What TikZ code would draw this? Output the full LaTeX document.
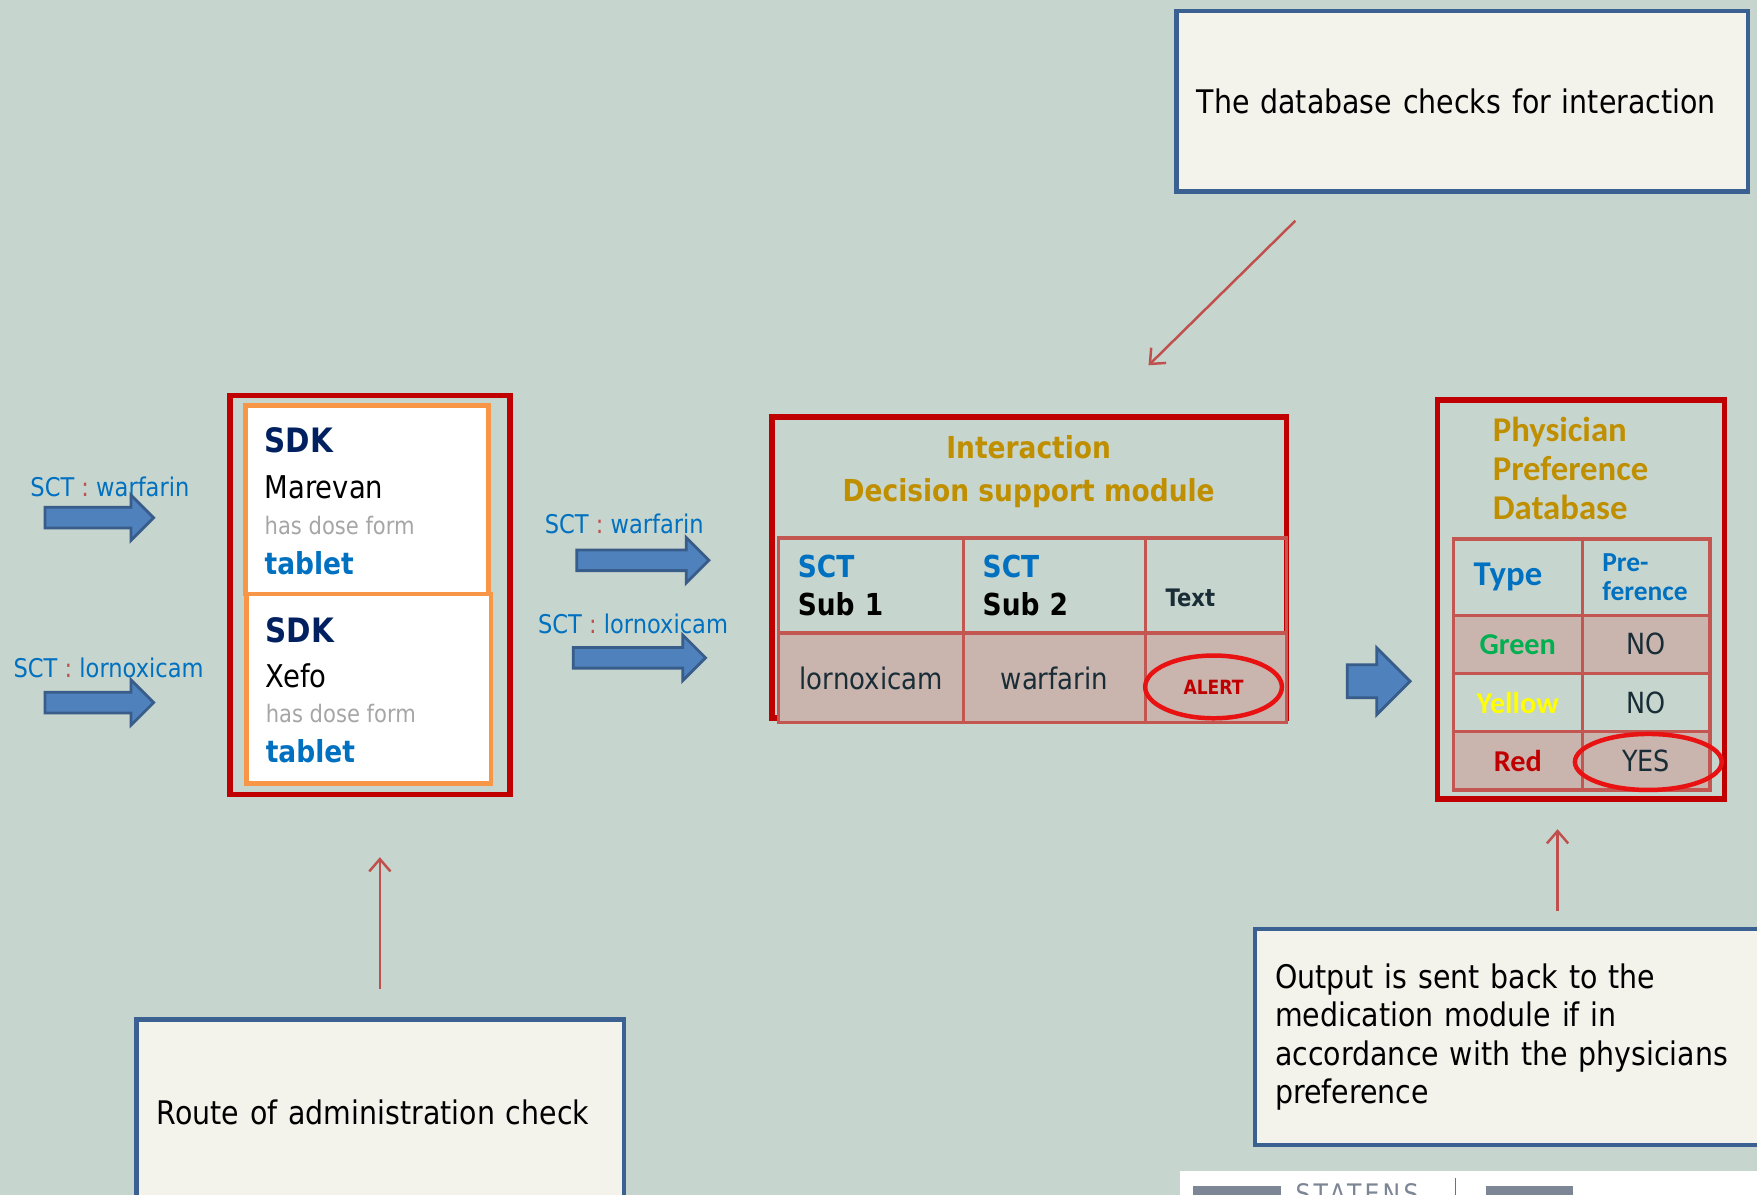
\documentclass[tikz,border=0pt]{standalone}
\usepackage{fontspec}
\setmainfont{DejaVu Sans}[FakeStretch=0.875]
\newfontfamily\calib{Carlito}
\usetikzlibrary{positioning,shapes.geometric,shapes.arrows,arrows.meta}

\definecolor{slide}{RGB}{198,213,205}
\definecolor{notefill}{RGB}{243,243,236}
\definecolor{noteedge}{RGB}{59,97,146}
\definecolor{pointred}{RGB}{192,80,77}
\definecolor{arrowfill}{RGB}{79,129,189}
\definecolor{arrowedge}{RGB}{56,93,138}
\definecolor{sctblue}{RGB}{0,112,192}
\definecolor{sdknavy}{RGB}{0,32,96}
\definecolor{doseform}{RGB}{166,166,166}
\definecolor{framered}{RGB}{192,0,0}
\definecolor{cardorange}{RGB}{247,150,70}
\definecolor{gold}{RGB}{192,143,0}
\definecolor{grid}{RGB}{196,86,82}
\definecolor{rowfill}{RGB}{201,180,174}
\definecolor{ringred}{RGB}{232,18,18}
\definecolor{ink}{RGB}{25,45,55}
\definecolor{prefgreen}{RGB}{0,176,80}
\definecolor{prefyellow}{RGB}{255,255,0}
\definecolor{logogray}{RGB}{125,134,148}

\tikzset{
  note/.style={draw=noteedge, fill=notefill, line width=4pt, outer sep=0pt, anchor=north west,
    inner xsep=18pt, align=left, font=\fontsize{29}{34}\selectfont},
  pointer/.style={-{Straight Barb[length=11pt,width=19pt]}, draw=pointred, line width=2.2pt},
  bigarrow/.style={single arrow, draw=arrowedge, fill=arrowfill, line width=2.5pt, inner xsep=0pt},
  frame/.style={draw=framered, line width=5pt, outer sep=0pt, anchor=north west, inner sep=0pt},
  card/.style={draw=cardorange, fill=white, line width=4pt, outer sep=0pt, anchor=north west, inner sep=0pt},
  cell/.style={draw=grid, line width=3pt, outer sep=0pt, anchor=north west, inner xsep=17pt, inner ysep=0pt},
  ring/.style={ellipse, draw=ringred, line width=4pt, inner sep=0pt},
  txt/.style={anchor=west, inner sep=0pt, text depth=0pt},
  tag/.style={txt, font=\fontsize{23}{27}\selectfont, text=sctblue}
}

\begin{document}
\begin{tikzpicture}[x=1pt, y=-1pt]
  \useasboundingbox (0,0) rectangle (1568,1066);
  \clip (0,0) rectangle (1568,1066);
  \fill[slide] (0,0) rectangle (1568,1066);

  % Notes
  \node (DbNote) [note, minimum height=161pt, text width=474pt] at (1050,10) {The database checks for interaction};
  \node (RouteNote) [note, minimum height=165pt, text width=399pt] at (122,910) {Route of administration check};
  \node (OutNote) [note, minimum height=193pt, text width=440pt] at (1120,829)
    {Output is sent back to the\\medication module if in\\accordance with the physicians\\preference};

  % Incoming SCT codes
  \node (WarfIn) [tag] at (27,434) {SCT \textcolor{pointred}{:} warfarin};
  \node (LornIn) [tag] at (12,596) {SCT \textcolor{pointred}{:} lornoxicam};
  \node (WarfArrowIn) [bigarrow, minimum height=97pt, inner ysep=8pt, single arrow head extend=11pt] at (84,462) {};
  \node (LornArrowIn) [bigarrow, minimum height=97pt, inner ysep=8pt, single arrow head extend=11pt] at (84,627) {};

  % Medication module
  \node (Medication) [frame, minimum width=250pt, minimum height=356pt] at (205,353) {};
  \node (CardA) [card, minimum width=217pt, minimum height=168pt] at (219,362) {};
  \node (CardB) [card, minimum width=218pt, minimum height=169pt] at (220,530) {};
  \node (SdkA) [txt, font=\bfseries\fontsize{30}{34}\selectfont, text=sdknavy] at (236,393) {SDK};
  \node (BrandA) [txt, font=\fontsize{28}{32}\selectfont] at (236,435) {Marevan};
  \node (DoseA) [txt, font=\fontsize{21.5}{25}\selectfont, text=doseform] at (236,469) {has dose form};
  \node (FormA) [txt, font=\bfseries\fontsize{27}{31}\selectfont, text=sctblue] at (236,502) {tablet};
  \node (SdkB) [txt, font=\bfseries\fontsize{30}{34}\selectfont, text=sdknavy] at (237,562) {SDK};
  \node (BrandB) [txt, font=\fontsize{28}{32}\selectfont] at (237,603) {Xefo};
  \node (DoseB) [txt, font=\fontsize{21.5}{25}\selectfont, text=doseform] at (237,637) {has dose form};
  \node (FormB) [txt, font=\bfseries\fontsize{27}{31}\selectfont, text=sctblue] at (237,670) {tablet};

  % Outgoing SCT codes
  \node (WarfOut) [tag] at (486,467) {SCT \textcolor{pointred}{:} warfarin};
  \node (LornOut) [tag] at (480,557) {SCT \textcolor{pointred}{:} lornoxicam};
  \node (WarfArrowOut) [bigarrow, minimum height=118pt, inner ysep=8pt, single arrow head extend=11pt] at (569,500) {};
  \node (LornArrowOut) [bigarrow, minimum height=118pt, inner ysep=8pt, single arrow head extend=11pt] at (566,587) {};

  % Interaction module
  \node (Interaction) [frame, minimum width=459pt, minimum height=269pt] at (689,372) {};
  \node (InterTitle) [align=center, font=\bfseries\fontsize{27}{38}\selectfont, text=gold] at (918,421)
    {Interaction\\Decision support module};
  \node (SubA) [cell, minimum width=165pt, minimum height=85pt, text width=131pt, align=left,
    font=\bfseries\fontsize{27}{34}\selectfont] at (695,480) {\textcolor{sctblue}{SCT}\\Sub 1};
  \node (SubB) [cell, minimum width=162pt, minimum height=85pt, text width=128pt, align=left,
    font=\bfseries\fontsize{27}{34}\selectfont, right=0pt of SubA] {\textcolor{sctblue}{SCT}\\Sub 2};
  \node (TextHd) [cell, minimum width=126pt, minimum height=85pt, right=0pt of SubB] {};
  \node (TextLbl) [txt, font=\bfseries\fontsize{21.5}{26}\selectfont, text=ink] at (1040,533) {Text};
  \node (LornCell) [cell, fill=rowfill, minimum width=165pt, minimum height=80pt,
    font=\fontsize{26.5}{30}\selectfont, text=ink, below=0pt of SubA] {lornoxicam};
  \node (WarfCell) [cell, fill=rowfill, minimum width=162pt, minimum height=80pt,
    font=\fontsize{26.5}{30}\selectfont, text=ink, below=0pt of SubB] {warfarin};
  \node (AlertCell) [cell, fill=rowfill, minimum width=126pt, minimum height=80pt, below=0pt of TextHd] {};
  \node (Alert) [ring, minimum width=122pt, minimum height=56pt, font=\bfseries\fontsize{17.5}{20}\selectfont,
    text=framered] at (1083,613) {ALERT};

  \node (PrefArrow) [bigarrow, minimum height=56pt, inner ysep=13.5pt, single arrow head extend=15pt] at (1223,608) {};

  % Physician preference database
  \node (Physician) [frame, minimum width=256pt, minimum height=356pt] at (1283,357) {};
  \node (PhysTitle) [anchor=west, inner sep=0pt, align=left, font=\calib\bfseries\fontsize{31}{34.5}\selectfont,
    text=gold] at (1332,418) {Physician\\Preference\\Database};
  \node (TypeHd) [cell, minimum width=115pt, minimum height=68pt, text width=79pt, inner xsep=18pt, align=left,
    font=\calib\bfseries\fontsize{31}{34}\selectfont, text=sctblue] at (1297,481) {Type};
  \node (PrefHd) [cell, minimum width=114pt, minimum height=68pt, text width=78pt, inner xsep=18pt, align=left,
    font=\calib\bfseries\fontsize{24.5}{26}\selectfont, text=sctblue, right=0pt of TypeHd] {Pre-\\ference};
  \node (GreenT) [cell, fill=rowfill, minimum width=115pt, minimum height=52pt,
    font=\calib\bfseries\fontsize{27}{30}\selectfont, text=prefgreen, below=0pt of TypeHd] {Green};
  \node (GreenP) [cell, fill=rowfill, minimum width=114pt, minimum height=52pt,
    font=\fontsize{26}{30}\selectfont, text=ink, right=0pt of GreenT] {NO};
  \node (YellowT) [cell, minimum width=115pt, minimum height=52pt,
    font=\calib\bfseries\fontsize{27}{30}\selectfont, text=prefyellow, below=0pt of GreenT] {Yellow};
  \node (YellowP) [cell, minimum width=114pt, minimum height=52pt,
    font=\fontsize{26}{30}\selectfont, text=ink, right=0pt of YellowT] {NO};
  \node (RedT) [cell, fill=rowfill, minimum width=115pt, minimum height=52pt,
    font=\calib\bfseries\fontsize{27}{30}\selectfont, text=framered, below=0pt of YellowT] {Red};
  \node (RedP) [cell, fill=rowfill, minimum width=114pt, minimum height=52pt,
    font=\fontsize{26}{30}\selectfont, text=ink, right=0pt of RedT] {YES};
  \node (Yes) [ring, minimum width=131pt, minimum height=50pt] at (1471,680) {};

  % Pointers
  \coordinate (DbTail) at (1156,197);
  \coordinate (DbHead) at (1025,326);
  \coordinate (RouteTail) at (339,883);
  \coordinate (RouteHead) at (339,765);
  \coordinate (OutTail) at (1390,813);
  \coordinate (OutHead) at (1390,740);
  \draw[pointer] (DbTail) -- (DbHead);
  \draw[pointer] (RouteTail) -- (RouteHead);
  \draw[pointer] (OutTail) -- (OutHead);

  % Logo strip
  \fill[white] (1053,1045) rectangle (1568,1066);
  \fill[logogray] (1065,1058) rectangle (1143,1070);
  \fill[logogray] (1326,1058) rectangle (1404,1070);
  \draw[pointred, line width=1.5pt] (1299,1051) -- (1299,1066);
  \node (Logo) [anchor=north west, inner sep=0pt, text depth=0pt, text=logogray,
    font=\addfontfeature{LetterSpace=12}\fontsize{24}{28}\selectfont] at (1156,1056) {STATENS};
\end{tikzpicture}
\end{document}
